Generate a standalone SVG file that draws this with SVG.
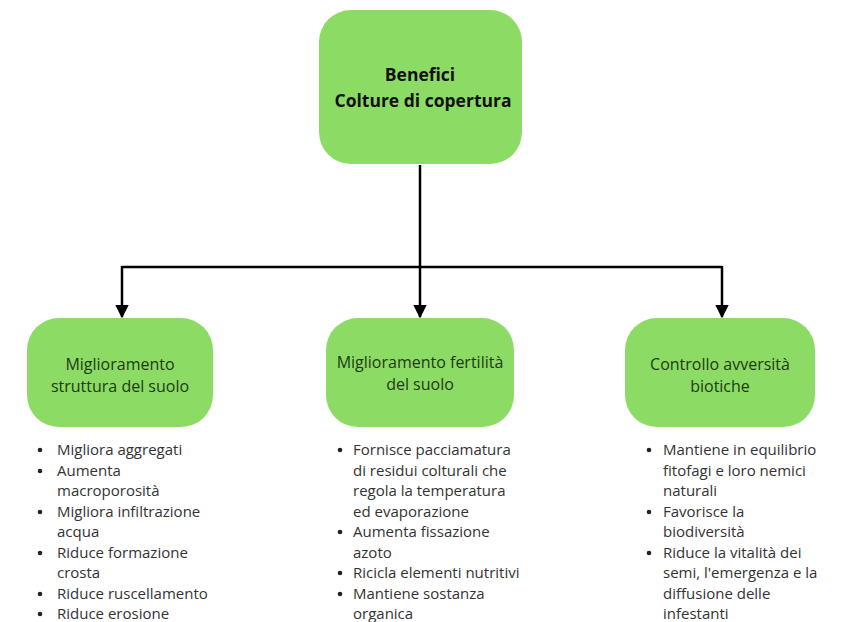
<svg xmlns="http://www.w3.org/2000/svg" width="841" height="622" viewBox="0 0 841 622">
<defs>
<style>
.box{fill:#8BDB65;}
.title{font-family:"Open Sans","Liberation Sans",sans-serif;font-weight:bold;font-size:17.5px;fill:#111;text-anchor:middle;}
.sub{font-family:"Open Sans","Liberation Sans",sans-serif;font-size:16px;fill:#1e3a14;text-anchor:middle;}
.li{font-family:"Open Sans","Liberation Sans",sans-serif;font-size:15px;fill:#333;}
.conn{fill:none;stroke:#000;stroke-width:2.5;}
</style>
<marker id="arr" viewBox="0 0 10 10" refX="9" refY="5" markerWidth="5.5" markerHeight="5.5" orient="auto" markerUnits="strokeWidth">
<path d="M0,0 L10,5 L0,10 Z" fill="#000"/>
</marker>
</defs>
<rect width="841" height="622" fill="#fff"/>
<g id="connectors">
<path class="conn" d="M420,165 V267"/>
<path class="conn" d="M122,267 H722"/>
<path class="conn" d="M122,266 V317" marker-end="url(#arr)"/>
<path class="conn" d="M420,267 V317" marker-end="url(#arr)"/>
<path class="conn" d="M722,266 V317" marker-end="url(#arr)"/>
</g>
<g id="root">
<rect class="box" x="319" y="10" width="203" height="154" rx="32"/>
<text class="title" x="420" y="81">Benefici</text>
<text class="title" x="423" y="107">Colture di copertura</text>
</g>
<g id="struttura">
<rect class="box" x="27" y="318" width="186" height="109" rx="32"/>
<text class="sub" x="120" y="370">Miglioramento</text>
<text class="sub" x="120" y="392">struttura del suolo</text>
</g>
<g id="fertilita">
<rect class="box" x="326" y="318" width="188" height="109" rx="32"/>
<text class="sub" x="420" y="368">Miglioramento fertilità</text>
<text class="sub" x="420" y="390">del suolo</text>
</g>
<g id="avversita">
<rect class="box" x="625" y="318" width="190" height="109" rx="32"/>
<text class="sub" x="720" y="370">Controllo avversità</text>
<text class="sub" x="720" y="392">biotiche</text>
</g>
<g id="list-struttura" class="li">
<circle cx="40" cy="450" r="2.3" fill="#222"/>
<circle cx="40" cy="471" r="2.3" fill="#222"/>
<circle cx="40" cy="512" r="2.3" fill="#222"/>
<circle cx="40" cy="553" r="2.3" fill="#222"/>
<circle cx="40" cy="594" r="2.3" fill="#222"/>
<circle cx="40" cy="614" r="2.3" fill="#222"/>
<text class="li" x="57" y="455">Migliora aggregati</text>
<text class="li" x="57" y="476">Aumenta</text>
<text class="li" x="57" y="496">macroporosità</text>
<text class="li" x="57" y="517">Migliora infiltrazione</text>
<text class="li" x="57" y="537">acqua</text>
<text class="li" x="57" y="558">Riduce formazione</text>
<text class="li" x="57" y="578">crosta</text>
<text class="li" x="57" y="599">Riduce ruscellamento</text>
<text class="li" x="57" y="619">Riduce erosione</text>
</g>
<g id="list-fertilita">
<circle cx="340" cy="450" r="2.3" fill="#222"/>
<circle cx="340" cy="532" r="2.3" fill="#222"/>
<circle cx="340" cy="573" r="2.3" fill="#222"/>
<circle cx="340" cy="594" r="2.3" fill="#222"/>
<text class="li" x="353" y="455">Fornisce pacciamatura</text>
<text class="li" x="353" y="476">di residui colturali che</text>
<text class="li" x="353" y="496">regola la temperatura</text>
<text class="li" x="353" y="517">ed evaporazione</text>
<text class="li" x="353" y="537">Aumenta fissazione</text>
<text class="li" x="353" y="558">azoto</text>
<text class="li" x="353" y="578">Ricicla elementi nutritivi</text>
<text class="li" x="353" y="599">Mantiene sostanza</text>
<text class="li" x="353" y="619">organica</text>
</g>
<g id="list-avversita">
<circle cx="649" cy="450" r="2.3" fill="#222"/>
<circle cx="649" cy="512" r="2.3" fill="#222"/>
<circle cx="649" cy="553" r="2.3" fill="#222"/>
<text class="li" x="663" y="455">Mantiene in equilibrio</text>
<text class="li" x="663" y="476">fitofagi e loro nemici</text>
<text class="li" x="663" y="496">naturali</text>
<text class="li" x="663" y="517">Favorisce la</text>
<text class="li" x="663" y="537">biodiversità</text>
<text class="li" x="663" y="558">Riduce la vitalità dei</text>
<text class="li" x="663" y="578">semi, l'emergenza e la</text>
<text class="li" x="663" y="599">diffusione delle</text>
<text class="li" x="663" y="619">infestanti</text>
</g>
</svg>
